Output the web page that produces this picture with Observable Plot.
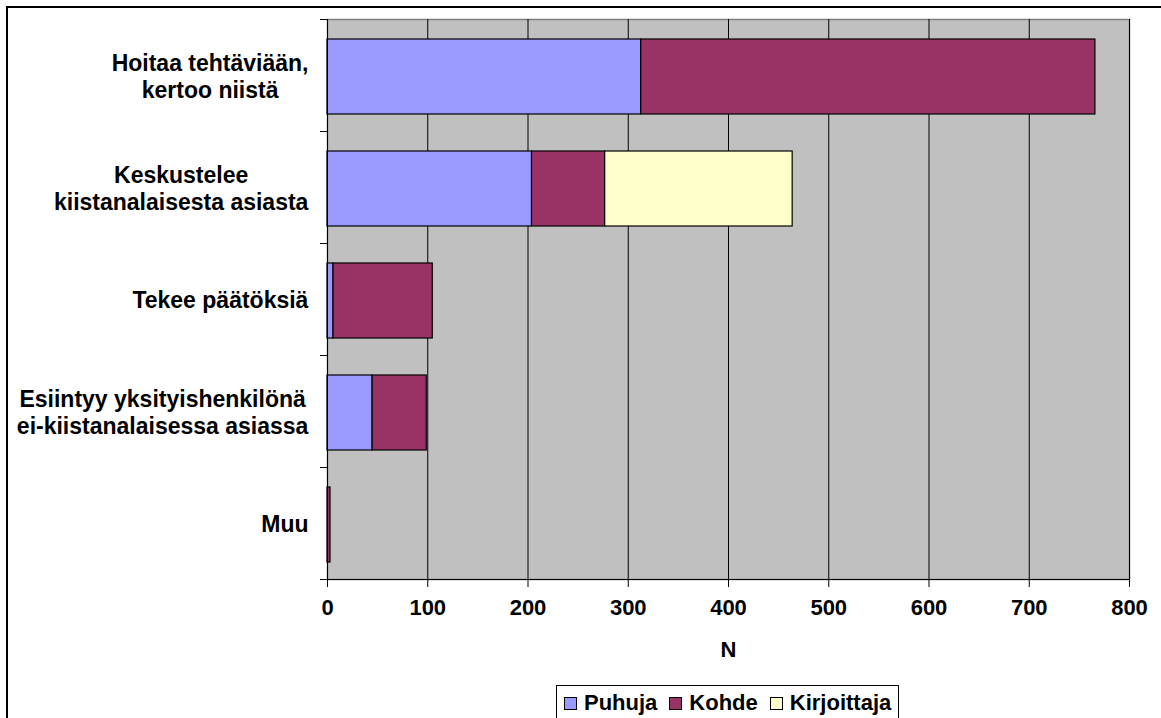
<!DOCTYPE html>
<html>
<head>
<meta charset="utf-8">
<script src="https://cdn.jsdelivr.net/npm/d3@7"></script>
<script src="https://cdn.jsdelivr.net/npm/@observablehq/plot@0.6"></script>
<style>
  html, body { margin: 0; padding: 0; background: #fff; }
  #wrap { position: relative; width: 1161px; height: 718px; overflow: hidden; font-family: "Liberation Sans", Arial, sans-serif; }
  #border { position: absolute; left: 6px; top: 6px; width: 1200px; height: 800px; border-left: 2px solid #000; border-top: 2px solid #000; box-sizing: border-box; }
  #chart { position: absolute; left: 0; top: 0; }
  #legend { position: absolute; left: 556px; top: 685px; height: 40px; border: 1px solid #000; background: #fff;
            display: flex; align-items: flex-start; padding: 4px 7px 0 7px; box-sizing: border-box;
            font-weight: bold; font-size: 22px; color: #000; white-space: nowrap; }
  .item { display: flex; align-items: center; margin-right: 12px; line-height: 26px; }
  .item:last-child { margin-right: 0; }
  .sw { width: 11px; height: 11px; border: 1px solid #000; margin-right: 7px; }
</style>
</head>
<body>
<div id="wrap">
  <div id="border"></div>
  <div id="chart"></div>
  <div id="legend"></div>
</div>
<script>
const categories = [
  "Hoitaa tehtäviään,\nkertoo niistä",
  "Keskustelee\nkiistanalaisesta asiasta",
  "Tekee päätöksiä",
  "Esiintyy yksityishenkilönä\nei-kiistanalaisessa asiassa",
  "Muu"
];
const seriesNames = ["Puhuja", "Kohde", "Kirjoittaja"];
const seriesColors = ["#9999FF", "#993366", "#FFFFCC"];
const puhuja = [313, 204, 6, 45, 0];
const kohde = [453, 73, 99, 54, 3];
const kirjoittaja = [0, 187, 0, 0, 0];
const xTicks = [0, 100, 200, 300, 400, 500, 600, 700, 800];

const valuesBySeries = [puhuja, kohde, kirjoittaja];
const data = [];
categories.forEach((c, i) => {
  seriesNames.forEach((s, j) => {
    const n = valuesBySeries[j][i];
    if (n > 0) data.push({cat: c, series: s, n});
  });
});

const axisDecor = (index, scales, values, dims) => {
  const {width, height, marginLeft, marginRight, marginTop, marginBottom} = dims;
  const bottom = height - marginBottom;
  const step = (bottom - marginTop) / categories.length;
  const g = d3.create("svg:g").attr("stroke", "#000").attr("stroke-width", 1).attr("shape-rendering", "crispEdges");
  g.append("line").attr("x1", marginLeft).attr("x2", marginLeft).attr("y1", marginTop).attr("y2", bottom + 8);
  g.append("line").attr("x1", marginLeft - 7).attr("x2", width - marginRight).attr("y1", bottom).attr("y2", bottom);
  for (let i = 0; i <= categories.length; i++) {
    const yy = marginTop + i * step;
    g.append("line").attr("x1", marginLeft - 7).attr("x2", marginLeft).attr("y1", yy).attr("y2", yy);
  }
  return g.node();
};

const chart = Plot.plot({
  width: 1161,
  height: 680,
  marginLeft: 327,
  marginRight: 32,
  marginTop: 19,
  marginBottom: 101,
  style: {fontFamily: "'Liberation Sans', Arial, sans-serif", fontWeight: "bold", fontSize: "22px", color: "#000", background: "transparent", overflow: "visible"},
  x: {domain: [0, 800]},
  y: {domain: categories, padding: 0},
  color: {domain: seriesNames, range: seriesColors},
  marks: [
    Plot.frame({fill: "#C0C0C0", stroke: "#808080", strokeWidth: 1.5}),
    Plot.gridX(xTicks, {stroke: "#000", strokeOpacity: 1, strokeWidth: 1}),
    Plot.barX(data, Plot.stackX({x: "n", y: "cat", fill: "series", stroke: "#000", strokeWidth: 1.2, insetTop: 20, insetBottom: 17})),
    Plot.axisX({ticks: xTicks, tickSize: 8, tickPadding: 12, stroke: "#000", label: "N", labelAnchor: "center", labelArrow: "none", labelOffset: 77}),
    Plot.axisY({tickSize: 0, tickPadding: 0, textAnchor: "middle", lineHeight: 1.2, fontSize: 23, label: null}),
    axisDecor
  ]
});
document.getElementById("chart").appendChild(chart);

// Excel-style labels: block right-aligned, lines centered in block
chart.querySelectorAll('[aria-label="y-axis tick label"] text').forEach(t => {
  const w = t.getBBox().width;
  const tr = t.getAttribute("transform") || "";
  t.setAttribute("transform", tr + ` translate(${-(19 + w / 2)},0)`);
});

const legend = document.getElementById("legend");
seriesNames.forEach((s, i) => {
  const item = document.createElement("div");
  item.className = "item";
  const sw = document.createElement("div");
  sw.className = "sw";
  sw.style.background = seriesColors[i];
  const lab = document.createElement("span");
  lab.textContent = s;
  item.appendChild(sw);
  item.appendChild(lab);
  legend.appendChild(item);
});
</script>
</body>
</html>
